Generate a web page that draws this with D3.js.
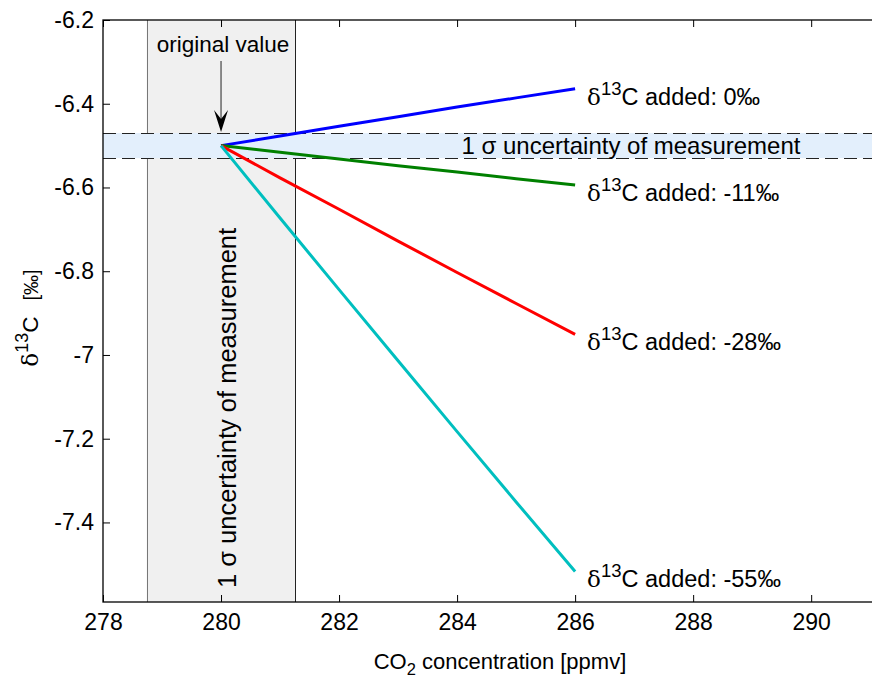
<!DOCTYPE html>
<html>
<head>
<meta charset="utf-8">
<script src="https://cdn.jsdelivr.net/npm/d3@7"></script>
<style>
  body { margin: 0; background: #fff; }
  svg { display: block; font-family: "Liberation Sans", Arial, Helvetica, sans-serif; }
</style>
</head>
<body>
<div id="chart"></div>
<script>
// CO2 concentration after adding carbon (ppmv)
const co2 = [280, 281, 282, 283, 284, 285, 286]
// delta13C of the added carbon (permil) and resulting atmospheric d13C
const addedSignatures = [0, -11, -28, -55]
const d13cAdded0 = [-6.5, -6.477, -6.454, -6.431, -6.408, -6.386, -6.364]
const d13cAdded11 = [-6.5, -6.516, -6.532, -6.548, -6.563, -6.579, -6.594]
const d13cAdded28 = [-6.5, -6.577, -6.652, -6.728, -6.803, -6.877, -6.951]
const d13cAdded55 = [-6.5, -6.673, -6.844, -7.014, -7.183, -7.351, -7.517]
const seriesColours = ['#0000ff', '#008000', '#ff0000', '#00bfbf']

// original value and its 1 sigma uncertainty
const originalCo2 = 280
const originalD13c = -6.5
const co2Sigma = [278.74, 281.26]
const d13cSigma = [-6.47, -6.53]

const xTicks = [278, 280, 282, 284, 286, 288, 290]
const yTicks = [-6.2, -6.4, -6.6, -6.8, -7, -7.2, -7.4]

const width = 872
const height = 677
const margin = { top: 20, right: -10, bottom: 75, left: 103 }

const series = [d13cAdded0, d13cAdded11, d13cAdded28, d13cAdded55].map((vals, i) => ({
  added: addedSignatures[i],
  colour: seriesColours[i],
  values: vals.map((v, j) => ({ x: co2[j], y: v }))
}))

const x = d3.scaleLinear().domain([278, 291.2]).range([margin.left, width - margin.right])
const y = d3.scaleLinear().domain([-7.59, -6.2]).range([height - margin.bottom, margin.top])

const svg = d3.select('#chart')
  .append('svg')
  .attr('width', width)
  .attr('height', height)
  .attr('viewBox', [0, 0, width, height])

const plotW = x.range()[1] - x.range()[0]
const plotH = y.range()[0] - y.range()[1]

// clip for things inside the axes
svg.append('clipPath').attr('id', 'plotclip')
  .append('rect')
  .attr('x', margin.left).attr('y', margin.top)
  .attr('width', plotW).attr('height', plotH)

const plot = svg.append('g').attr('clip-path', 'url(#plotclip)')

// vertical uncertainty band (CO2)
plot.append('rect')
  .attr('x', x(co2Sigma[0]))
  .attr('y', margin.top)
  .attr('width', x(co2Sigma[1]) - x(co2Sigma[0]))
  .attr('height', plotH)
  .attr('fill', '#f0f0f0')
plot.selectAll('line.vedge')
  .data(co2Sigma)
  .join('line')
  .attr('class', 'vedge')
  .attr('x1', d => Math.round(x(d)) + 0.5).attr('x2', d => Math.round(x(d)) + 0.5)
  .attr('y1', margin.top).attr('y2', margin.top + plotH)
  .attr('stroke', (d, i) => i === 0 ? '#777' : '#222')
  .attr('stroke-width', 1)

// horizontal uncertainty band (d13C)
plot.append('rect')
  .attr('x', margin.left)
  .attr('y', y(d13cSigma[0]))
  .attr('width', plotW)
  .attr('height', y(d13cSigma[1]) - y(d13cSigma[0]))
  .attr('fill', '#e3effc')
plot.selectAll('line.hedge')
  .data(d13cSigma)
  .join('line')
  .attr('class', 'hedge')
  .attr('x1', margin.left).attr('x2', margin.left + plotW)
  .attr('y1', d => Math.round(y(d)) + 0.5).attr('y2', d => Math.round(y(d)) + 0.5)
  .attr('stroke', '#222')
  .attr('stroke-width', 1)
  .attr('stroke-dasharray', '13,6')

// mixing lines
const line = d3.line().x(d => x(d.x)).y(d => y(d.y))
plot.append('g')
  .selectAll('path')
  .data(series)
  .join('path')
  .attr('d', d => line(d.values))
  .attr('fill', 'none')
  .attr('stroke', d => d.colour)
  .attr('stroke-width', 3)

// axes (ticks inside, like MATLAB)
const fmt = d => String(d)
svg.append('g')
  .attr('transform', `translate(0,${y.range()[0]})`)
  .call(d3.axisBottom(x).tickValues(xTicks).tickFormat(fmt).tickSize(-7).tickSizeOuter(0).tickPadding(12))
svg.append('g')
  .attr('transform', `translate(0,${margin.top})`)
  .call(d3.axisTop(x).tickValues(xTicks).tickFormat('').tickSize(-7).tickSizeOuter(0))
svg.append('g')
  .attr('transform', `translate(${margin.left},0)`)
  .call(d3.axisLeft(y).tickValues(yTicks).tickFormat(fmt).tickSize(-7).tickSizeOuter(0).tickPadding(9))
svg.append('g')
  .attr('transform', `translate(${x.range()[1]},0)`)
  .call(d3.axisRight(y).tickValues(yTicks).tickFormat('').tickSize(-7).tickSizeOuter(0))

svg.selectAll('.tick text').attr('font-size', 23).attr('font-family', null).attr('fill', '#000')
svg.selectAll('.domain').remove()
svg.selectAll('.tick line').attr('stroke', '#000')

// axes box
svg.append('rect')
  .attr('x', margin.left).attr('y', margin.top)
  .attr('width', plotW).attr('height', plotH)
  .attr('fill', 'none')
  .attr('stroke', '#000')
  .attr('stroke-width', 1.3)

// "original value" annotation with arrow
const arrowX = x(originalCo2)
const arrowTip = y(d13cSigma[0]) - 1
svg.append('text')
  .attr('x', arrowX + 2)
  .attr('y', 52)
  .attr('text-anchor', 'middle')
  .attr('font-size', 22.5)
  .text('original value')
svg.append('line')
  .attr('x1', arrowX).attr('x2', arrowX)
  .attr('y1', 61).attr('y2', arrowTip - 10)
  .attr('stroke', '#444')
  .attr('stroke-width', 1.2)
svg.append('path')
  .attr('d', `M${arrowX - 7},${arrowTip - 22} L${arrowX},${arrowTip - 13} L${arrowX + 7},${arrowTip - 22} L${arrowX},${arrowTip} Z`)
  .attr('fill', '#000')

// sigma band labels
svg.append('text')
  .attr('x', 631)
  .attr('y', y(originalD13c) + 8)
  .attr('text-anchor', 'middle')
  .attr('font-size', 24)
  .text('1 σ uncertainty of measurement')
svg.append('text')
  .attr('transform', `translate(${x(originalCo2) + 15},${408}) rotate(-90)`)
  .attr('text-anchor', 'middle')
  .attr('font-size', 25.5)
  .text('1 σ uncertainty of measurement')

// end-of-line labels
const labels = svg.append('g')
  .selectAll('text')
  .data(series)
  .join('text')
  .attr('x', d => x(d.values[d.values.length - 1].x) + 12)
  .attr('y', d => y(d.values[d.values.length - 1].y) + 16)
  .attr('font-size', 23.5)
labels.append('tspan').attr('font-family', '"DejaVu Serif", serif').attr('font-size', 23).text('δ')
labels.append('tspan').attr('font-size', 18.5).attr('dy', -10).text('13')
labels.append('tspan').attr('dy', 10).text(d => `C added: ${d.added}‰`)

// axis titles
const xTitle = svg.append('text')
  .attr('x', 500)
  .attr('y', 669)
  .attr('text-anchor', 'middle')
  .attr('font-size', 22)
xTitle.append('tspan').text('CO')
xTitle.append('tspan').attr('font-size', 16.5).attr('dy', 6).text('2')
xTitle.append('tspan').attr('dy', -6).text(' concentration [ppmv]')

const yTitle = svg.append('text')
  .attr('transform', 'translate(38,318) rotate(-90)')
  .attr('text-anchor', 'middle')
  .attr('font-size', 22.5)
yTitle.append('tspan').attr('font-family', '"DejaVu Serif", serif').attr('font-size', 23).text('δ')
yTitle.append('tspan').attr('font-size', 18).attr('dy', -10).text('13')
yTitle.append('tspan').attr('dy', 10).text('C')
yTitle.append('tspan').attr('font-size', 20).attr('dx', 16).text('[‰]')
</script>
</body>
</html>
